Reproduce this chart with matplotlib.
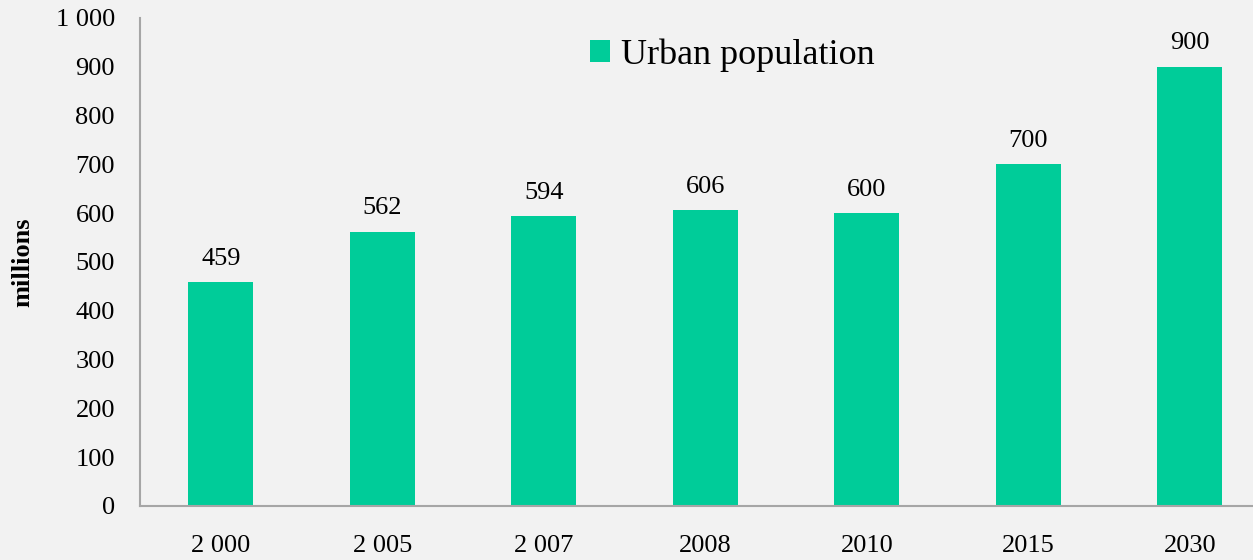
import matplotlib.pyplot as plt

years = ["2 000", "2 005", "2 007", "2008", "2010", "2015", "2030"]
urban_population = [459, 562, 594, 606, 600, 700, 900]
y_ticks = [0, 100, 200, 300, 400, 500, 600, 700, 800, 900, 1000]
y_tick_labels = ["0", "100", "200", "300", "400", "500", "600", "700", "800", "900", "1 000"]

plt.rcParams['font.family'] = ['Liberation Serif', 'DejaVu Serif']

W, H = 1253, 560
fig = plt.figure(figsize=(W / 100, H / 100), dpi=100, facecolor="#F2F2F2")
ax = fig.add_axes([140 / W, 54 / H, 1113 / W, 488 / H], facecolor="#F2F2F2")

step = 161.5
x = range(len(years))
bars = ax.bar(x, urban_population, width=0.4, color="#00CC99", label="Urban population", zorder=2)

ax.set_xlim(-0.5, -0.5 + 1113 / step)
ax.set_ylim(0, 1000)
ax.set_yticks(y_ticks)
ax.set_yticklabels(y_tick_labels)
ax.set_xticks(list(x))
ax.set_xticklabels(years)
ax.tick_params(axis="both", length=0, labelsize=19, colors="black")
ax.tick_params(axis="y", pad=18)
ax.tick_params(axis="x", pad=21)

for side in ("top", "right"):
    ax.spines[side].set_visible(False)
for side in ("left", "bottom"):
    ax.spines[side].set_color("#A6A6A6")
    ax.spines[side].set_linewidth(1.5)

for bar, v in zip(bars, urban_population):
    ax.annotate(f"{v}", (bar.get_x() + bar.get_width() / 2, v), xytext=(0, 9),
                textcoords="offset points", ha="center", va="bottom", fontsize=19)

ax.set_ylabel("millions", fontsize=19, fontweight="bold")
ax.yaxis.set_label_coords(-106 / 1113, 0.5)

ax.legend(loc="upper center", bbox_to_anchor=(0.532, 1.025), frameon=False, fontsize=26,
          handlelength=0.55, handleheight=0.55, handletextpad=0.3)

fig.savefig("out.png", dpi=100, facecolor=fig.get_facecolor())
